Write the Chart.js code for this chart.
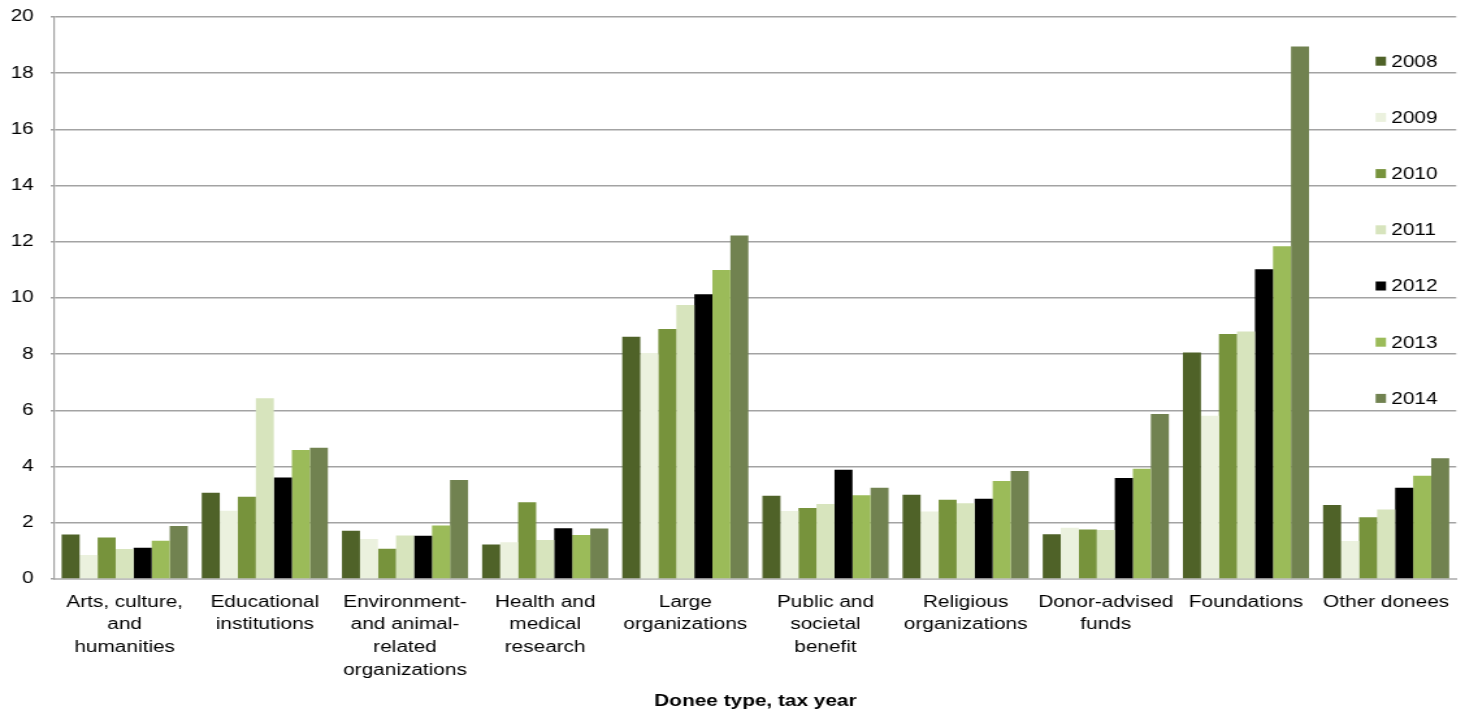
<!DOCTYPE html>
<html>
<head>
<meta charset="utf-8">
<script src="https://cdn.jsdelivr.net/npm/chart.js@4/dist/chart.umd.min.js"></script>
<style>
  body { margin: 0; background: #fff; overflow: hidden; }
  /* source picture is stretched sideways about 1.3x, so draw narrow and stretch the box */
  #wrap { width: 1127px; height: 712px; transform: scaleX(1.2999); transform-origin: 0 0; }
</style>
</head>
<body>
<div id="wrap"><canvas id="chart" width="1127" height="712"></canvas></div>
<script>
const categories = [
    ["Arts, culture,", "and", "humanities"],
    ["Educational", "institutions"],
    ["Environment-", "and animal-", "related", "organizations"],
    ["Health and", "medical", "research"],
    ["Large", "organizations"],
    ["Public and", "societal", "benefit"],
    ["Religious", "organizations"],
    ["Donor-advised", "funds"],
    ["Foundations"],
    ["Other donees"]
];
const years = ["2008", "2009", "2010", "2011", "2012", "2013", "2014"];
const yTicks = [0, 2, 4, 6, 8, 10, 12, 14, 16, 18, 20];

const v2008 = [1.58, 3.07, 1.72, 1.23, 8.62, 2.96, 3.00, 1.59, 8.06, 2.63];
const v2009 = [0.85, 2.43, 1.42, 1.31, 8.04, 2.42, 2.40, 1.82, 5.81, 1.35];
const v2010 = [1.48, 2.93, 1.08, 2.73, 8.90, 2.53, 2.82, 1.76, 8.72, 2.20];
const v2011 = [1.07, 6.43, 1.55, 1.39, 9.75, 2.67, 2.70, 1.74, 8.81, 2.47];
const v2012 = [1.11, 3.61, 1.54, 1.81, 10.13, 3.89, 2.86, 3.59, 11.02, 3.25];
const v2013 = [1.36, 4.59, 1.90, 1.57, 11.00, 2.98, 3.49, 3.92, 11.84, 3.67];
const v2014 = [1.89, 4.67, 3.52, 1.80, 12.22, 3.25, 3.84, 5.87, 18.95, 4.30];

const series = [v2008, v2009, v2010, v2011, v2012, v2013, v2014];
const colors = ["#4f6228", "#ebf1de", "#77933c", "#d7e4bd", "#000000", "#9bbb59", "#718250"];

const FONT = "'Liberation Sans', Arial, sans-serif";
Chart.defaults.font.family = FONT;
Chart.defaults.font.size = 16;
Chart.defaults.color = "#000";

// legend sits inside the plot, one entry above each of the upper gridlines
const legendInside = {
    id: "legendInside",
    afterDraw(chart) {
        const ctx = chart.ctx;
        const y = chart.scales.y;
        const right = chart.chartArea.right;
        ctx.save();
        ctx.font = "16px " + FONT;
        ctx.textBaseline = "middle";
        chart.data.datasets.forEach((ds, i) => {
            const cy = y.getPixelForValue(18 - 2 * i) - 12;
            ctx.fillStyle = ds.backgroundColor;
            ctx.fillRect(right - 62, cy - 4.5, 8, 9);
            ctx.fillStyle = "#000";
            ctx.fillText(ds.label, right - 50, cy + 1);
        });
        ctx.restore();
    }
};

new Chart(document.getElementById("chart"), {
    type: "bar",
    data: {
        labels: categories,
        datasets: years.map((yr, i) => ({
            label: yr,
            data: series[i],
            backgroundColor: colors[i],
            borderWidth: 0,
            categoryPercentage: 0.9,
            barPercentage: 1.0
        }))
    },
    options: {
        responsive: false,
        animation: false,
        layout: { padding: { top: 17, right: 4, bottom: 0, left: 0 } },
        plugins: {
            legend: { display: false },
            tooltip: { enabled: true }
        },
        scales: {
            x: {
                grid: { display: false, drawTicks: false },
                border: { color: "#bfbfbf", width: 2 },
                ticks: {
                    autoSkip: false,
                    maxRotation: 0,
                    padding: 12,
                    font: { size: 16, lineHeight: 1.42 }
                },
                title: {
                    display: true,
                    text: "Donee type, tax year",
                    font: { size: 16, weight: "bold" },
                    padding: { top: 0, bottom: 1 }
                },
                afterFit(scale) { scale.height = 133; }
            },
            y: {
                min: 0,
                max: 20,
                afterBuildTicks(scale) { scale.ticks = yTicks.map(v => ({ value: v })); },
                grid: { color: "#a3a3a3", lineWidth: 1.5, tickLength: 3 },
                border: { color: "#a3a3a3", width: 1.2 },
                ticks: { padding: 13, font: { size: 16 } },
                afterFit(scale) {
                    scale.width = 42;
                    scale.paddingTop = 0;
                }
            }
        }
    },
    plugins: [legendInside]
});
</script>
</body>
</html>
